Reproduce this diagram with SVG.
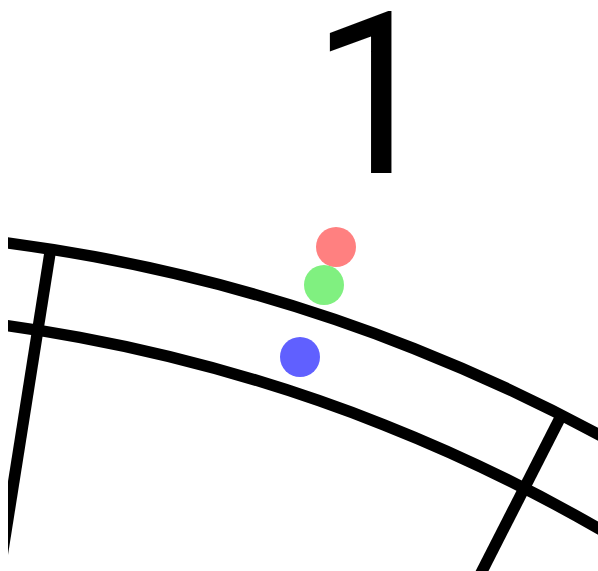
<svg xmlns="http://www.w3.org/2000/svg" width="598" height="571" viewBox="0 0 598 571">
  <style>
    .wire { fill: none; stroke: #000; stroke-width: 11.5; }
    .label { font-family: Roboto, "Liberation Sans", sans-serif; font-size: 226px; fill: #000; }
  </style>
  <defs>
    <clipPath id="view">
      <rect x="8" y="0" width="600" height="571"/>
    </clipPath>
  </defs>
  <rect width="598" height="571" fill="#fff"/>
  <g id="board" clip-path="url(#view)">
    <circle id="double-outer" class="wire" cx="-218" cy="1945" r="1717"/>
    <circle id="double-inner" class="wire" cx="-218" cy="1945" r="1635"/>
    <line id="wire-9" class="wire" x1="-218" y1="1945" x2="50.6" y2="249.1"/>
    <line id="wire-27" class="wire" x1="-218" y1="1945" x2="561.5" y2="415.1"/>
  </g>
  <g id="number-1">
    <text class="label" x="311" y="173">1</text>
  </g>
  <g id="dots">
    <circle id="dot-red" cx="336" cy="247" r="20" fill="#ff8080"/>
    <circle id="dot-green" cx="324" cy="285" r="20" fill="#80f080"/>
    <circle id="dot-blue" cx="300" cy="357" r="20" fill="#6060ff"/>
  </g>
</svg>
